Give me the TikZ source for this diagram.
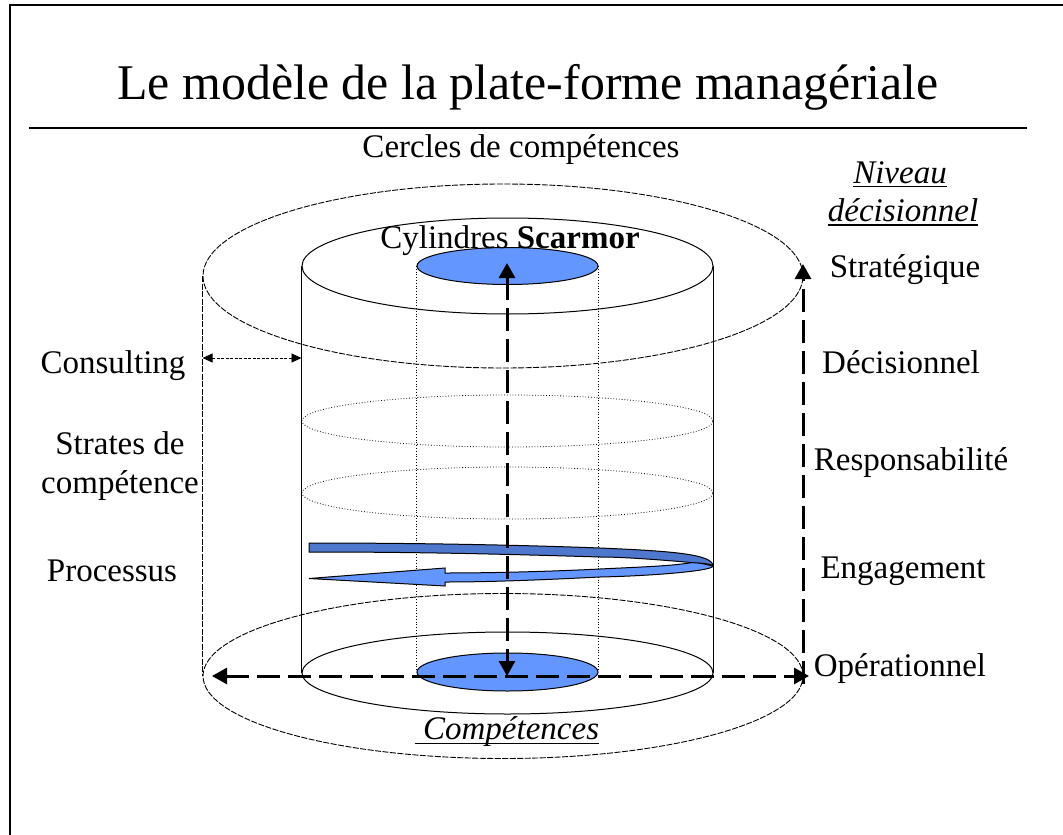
\documentclass[tikz,border=0pt]{standalone}
\usepackage{fontspec}
\setmainfont{Liberation Serif}
\usetikzlibrary{shapes.geometric,arrows.meta}
\definecolor{lightb}{RGB}{100,150,255}
\definecolor{darkb}{RGB}{77,120,205}
\newcommand{\myul}[1]{\setbox0\hbox{#1}\rlap{\vrule width\wd0 height -2.8pt depth 4.2pt}\box0}
\tikzset{
 x=1pt,y=-1pt,
 disc/.style={ellipse,draw,inner sep=0pt,minimum width=#1},
 label/.style={inner sep=0pt,font=\fontsize{33}{38}\selectfont,align=center},
 thick dash/.style={line width=3pt,dash pattern=on 23pt off 8pt,-{Triangle[length=15pt,width=16pt]}},
 both dash/.style={line width=3pt,dash pattern=on 23pt off 8pt,{Triangle[length=15pt,width=16pt]}-{Triangle[length=15pt,width=16pt]}},
 edge line/.style={line width=1pt},
 dot line/.style={line width=0.8pt,dotted},
 dash thin/.style={line width=0.9pt,dash pattern=on 6pt off 1.5pt}
}
\begin{document}
\begin{tikzpicture}
\useasboundingbox (0,0) rectangle (1063,835);
\fill[white] (0,0) rectangle (1063,835);
\coordinate (frameTL) at (9.5,5);
\draw[line width=2pt] (9.5,835) -- (frameTL) -- (1063,5);
\coordinate (ruleL) at (29,128);
\coordinate (ruleR) at (1027,128);
\draw[line width=1.5pt] (ruleL) -- (ruleR);
\node[inner sep=0pt,font=\fontsize{49.9}{56}\selectfont] (title) at (528,87) {Le modèle de la plate-forme managériale};
% outer circles
\node[disc=600pt,minimum height=184pt,dash thin] (outerT) at (503,276) {};
\node[disc=600pt,minimum height=165pt,dash thin] (outerB) at (503,676) {};
\draw[dash thin] (outerT.west) -- (outerB.west);
% cylinder
\node[disc=411pt,minimum height=96pt,edge line] (cylT) at (507.5,266) {};
\node[disc=411pt,minimum height=82pt,edge line] (cylB) at (507.5,673) {};
\draw[edge line] (cylT.west) -- (cylB.west);
\draw[edge line] (cylT.east) -- (cylB.east);
% strata
\node[disc=411pt,minimum height=52pt,dot line] (s1) at (507.5,421) {};
\node[disc=411pt,minimum height=52pt,dot line] (s2) at (507.5,493) {};
% inner
\node[disc=181pt,minimum height=37pt,edge line,fill=lightb] (inT) at (507.5,266) {};
\node[disc=181pt,minimum height=38pt,edge line,fill=lightb] (inB) at (507.5,672) {};
\draw[dot line] (inT.west) -- (inB.west);
\draw[dot line] (inT.east) -- (inB.east);
% process ribbon
\draw[line width=1pt,fill=lightb] (713,566) .. controls (713,571) and (650,576) .. (600,577) .. controls (540,580) and (490,582) .. (445,582) -- (445,586) -- (309,578.5) -- (445,568) -- (445,573) .. controls (500,573) and (560,571) .. (600,569) .. controls (640,567) and (675,566) .. (695,562) -- cycle;
\draw[line width=1pt,fill=darkb] (309,543) .. controls (420,543) and (520,545) .. (600,548) .. controls (670,551) and (713,554) .. (713,566) .. controls (710,563) and (695,563) .. (685,562) .. controls (650,559) and (620,557) .. (600,557) .. controls (500,554) and (420,552) .. (309,552) -- cycle;
% text
\node[label] (cercles) at (521,150) {Cercles de compétences};
\node[label] (cyl) at (510,241) {Cylindres \textbf{Scarmor}};
\node[label,anchor=center] (niv) at (903,193.5) {\myul{\textit{Niveau}}\hspace*{6pt}\\[0.5pt]\myul{\textit{décisionnel}}};
\node[label] (strat) at (905,270) {Stratégique};
\node[label] (dec) at (901,362) {Décisionnel};
\node[label] (resp) at (911,463) {Responsabilité};
\node[label] (eng) at (903,571) {Engagement};
\node[label] (op) at (900,669) {Opérationnel};
\node[label] (cons) at (113,366) {Consulting};
\node[label] (str) at (120,466.5) {Strates de\\[1pt]compétence};
\node[label] (proc) at (112,571) {Processus};
\node[label] (comp) at (507,732) {\myul{\textit{\ Compétences}}};
% arrows
\coordinate (vTop) at (507,263);
\coordinate (vBot) at (507,676);
\draw[both dash] (vTop) -- (vBot);
\coordinate (hL) at (212,676);
\coordinate (hR) at (809,676);
\draw[both dash] (hL) -- (hR);
\coordinate (rB) at (803,684);
\coordinate (rT) at (803,264);
\draw[thick dash] (rB) -- (rT);
\coordinate (cL) at (outerT.west |- 0,358);
\coordinate (cR) at (cylT.west |- 0,358);
\draw[line width=0.9pt,dash pattern=on 3pt off 1.5pt,{Triangle[length=10pt,width=9pt]}-{Triangle[length=10pt,width=9pt]}] (cL) -- (cR);
\end{tikzpicture}
\end{document}
